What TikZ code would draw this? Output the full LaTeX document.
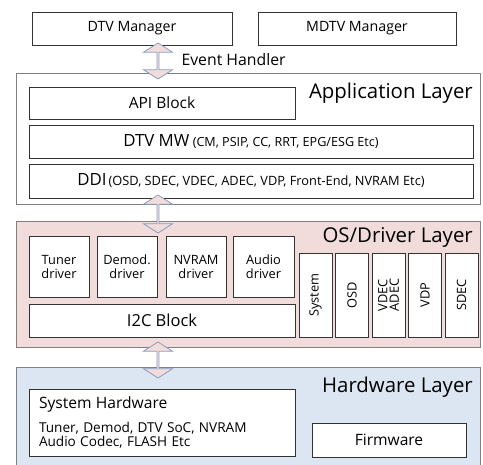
\documentclass[tikz,border=0pt]{standalone}
\usepackage{fontspec}
\setmainfont{Open Sans}
\usetikzlibrary{shapes.arrows}

\definecolor{ospink}{HTML}{F2DCDB}
\definecolor{hwblue}{HTML}{DCE6F2}
\definecolor{arrowline}{HTML}{8A9DBE}

\begin{document}
\begin{tikzpicture}[x=1pt,y=-1pt,
  block/.style={draw=black!80,fill=white,line width=0.8pt,inner sep=0pt,align=center,
    font=\fontsize{12.8}{14}\selectfont},
  layer/.style={draw=black!50,line width=1pt,inner sep=0pt},
  title/.style={anchor=east,inner sep=0pt,font=\fontsize{20.4}{22}\selectfont},
  updown/.style={double arrow,draw=arrowline,fill=ospink,line width=0.8pt,rotate=90,
    double arrow head extend=6pt,double arrow tip angle=115,minimum width=29pt,inner sep=0pt}]

  \useasboundingbox (0,0) rectangle (483,465);

  % managers on top
  \node[block,minimum width=200,minimum height=33,font=\fontsize{14.2}{15}\selectfont] (dtv) at (132,28.5) {DTV Manager};
  \node[block,minimum width=198,minimum height=33,font=\fontsize{14.2}{15}\selectfont] (mdtv) at (357,28.5) {MDTV Manager};

  % application layer
  \node[layer,fill=white,minimum width=464,minimum height=131] (app) at (248,139.5) {};
  \node[title] (apptitle) at (473,93) {Application Layer};
  \node[block,minimum width=266,minimum height=32,font=\fontsize{15.5}{17}\selectfont] (api) at (162,103) {API Block};
  \node[block,minimum width=444,minimum height=33] (mw) at (251,141.5)
    {{\fontsize{16.8}{18}\selectfont DTV MW} {\fontsize{12.6}{14}\selectfont(CM, PSIP, CC, RRT, EPG/ESG Etc)}};
  \node[block,minimum width=444,minimum height=34] (ddi) at (251,181)
    {{\fontsize{16.8}{18}\selectfont DDI}\,{\fontsize{12.8}{14}\selectfont(OSD, SDEC, VDEC, ADEC, VDP, Front-End, NVRAM Etc)}};

  % os / driver layer
  \node[layer,fill=ospink,minimum width=464,minimum height=126] (os) at (248,285) {};
  \node[title] (ostitle) at (473,237) {OS/Driver Layer};
  \node[block,minimum width=60,minimum height=61] (tuner) at (59,266.5) {Tuner\\driver};
  \node[block,minimum width=60,minimum height=61] (demod) at (127,266.5) {Demod.\\driver};
  \node[block,minimum width=60,minimum height=61] (nvram) at (196,266.5) {NVRAM\\driver};
  \node[block,minimum width=61,minimum height=61] (audio) at (263.5,266.5) {Audio\\driver};
  \node[block,minimum width=266,minimum height=33,font=\fontsize{16.5}{18}\selectfont] (i2c) at (162,320.5) {I2C Block};
  \node[block,rotate=90,minimum width=84,minimum height=33] (system) at (315.5,295) {System};
  \node[block,rotate=90,minimum width=84,minimum height=33] (osd) at (352,295) {OSD};
  \node[block,rotate=90,minimum width=84,minimum height=33,font=\fontsize{12.8}{11.5}\selectfont] (avdec) at (388.5,295) {VDEC\\ADEC};
  \node[block,rotate=90,minimum width=84,minimum height=33] (vdp) at (425,295) {VDP};
  \node[block,rotate=90,minimum width=84,minimum height=33] (sdec) at (461.5,295) {SDEC};

  % hardware layer, open at the bottom
  \node[layer,fill=hwblue,minimum width=464,minimum height=102] (hw) at (248,419) {};
  \node[title] (hwtitle) at (473,387) {Hardware Layer};
  \node[block,minimum width=266,minimum height=67,text width=246,align=left,inner xsep=10pt] (syshw) at (162,422.5)
    {{\fontsize{15.6}{18}\selectfont System Hardware}\\[9pt]
     {\fontsize{13.6}{14}\selectfont Tuner, Demod, DTV SoC, NVRAM\\Audio Codec, FLASH Etc}};
  \node[block,minimum width=154,minimum height=34,font=\fontsize{15.6}{17}\selectfont] (fw) at (389,440) {Firmware};

  % links between the layers
  \node[updown,minimum height=36] (evlink) at (158,61) {};
  \node[anchor=west,font=\fontsize{15.8}{17}\selectfont] (evtext) at (178,60) {Event Handler};
  \node[updown,minimum height=38] (drvlink) at (158,214) {};
  \node[updown,minimum height=36] (hwlink) at (158,360) {};
\end{tikzpicture}
\end{document}
